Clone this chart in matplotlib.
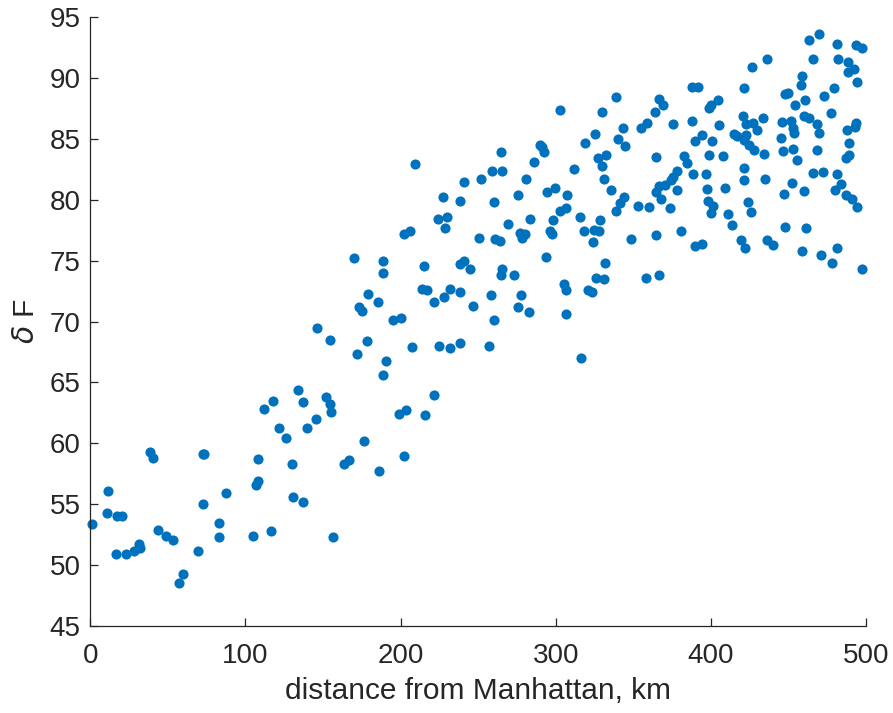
import matplotlib
matplotlib.use('Agg')
import matplotlib.pyplot as plt

plt.rcParams['font.family'] = ['Liberation Sans', 'DejaVu Sans']

# distance (km) and delta F values
dist = [0.9, 11.2, 10.9, 16.5, 17.4, 20.6, 23.2, 28.3, 31.6, 32.0, 38.4, 40.6, 44.0, 48.7, 53.4,
        57.1, 59.9, 69.2, 72.4, 73.2, 72.8, 83.1, 83.1, 87.4, 104.6, 106.7, 107.8, 108.4, 116.4,
        111.9, 117.6, 121.5,
        126.2, 130.3, 130.7, 137.4, 134.2, 137.4, 139.7, 145.5, 152.1, 154.2, 154.9, 156.5, 163.6,
        166.6, 176.2, 186.1, 188.7, 190.6, 198.8, 203.3, 202.4, 215.8, 221.7,
        146.2, 154.3, 169.8, 172.0, 173.0, 175.3, 178.4, 179.3, 185.3, 188.9, 188.7, 195.1, 200.5,
        207.3, 202.2, 205.9, 209.1, 214.9, 214.0, 216.7, 221.5, 224.8, 223.9, 230.1, 228.8, 227.1,
        227.9, 231.6, 231.9,
        241.0, 251.8, 238.0, 250.7, 241.0, 238.0, 244.7, 246.9, 238.0,
        338.7, 302.9, 329.7, 343.0, 355.0, 358.7, 340.0, 344.5, 318.7, 325.0, 289.6, 291.3, 292.6,
        264.9, 259.1, 265.3, 285.9, 311.7, 327.1, 332.1, 329.7, 364.3, 280.8, 331.0, 335.5, 260.4,
        275.4, 294.3, 299.2, 307.1, 343.7, 341.1, 339.0, 352.7, 360.0, 302.9, 306.3, 315.5, 328.2,
        298.4, 283.3, 269.2, 276.7, 280.4, 278.0, 296.5, 297.3, 318.1, 324.5, 327.8, 324.2, 348.4,
        364.7, 260.8, 263.8, 293.9, 265.1, 264.7, 273.3, 258.2, 277.3, 275.9, 282.7, 260.2, 305.0,
        306.3, 320.5, 323.5, 326.1, 330.8, 331.6, 358.0, 366.2, 306.5, 238.0, 256.7, 316.2,
        469.7, 463.2, 481.4, 493.5, 497.4, 435.9, 426.3, 465.6, 481.7, 488.3, 492.2, 488.5, 494.1,
        458.5, 457.9, 387.9, 391.9, 421.1, 447.5, 449.9, 472.9, 479.1, 460.7, 453.8, 366.2, 368.8,
        363.6, 399.7, 404.4, 399.0, 477.2, 420.5, 433.6, 387.6, 375.2, 405.3, 445.8, 451.6, 452.7,
        453.3, 459.6, 463.0, 468.1, 469.9, 493.5, 487.7, 492.9, 422.4, 426.9, 429.5, 415.1, 416.9,
        422.7, 421.1, 424.8, 427.4, 394.1, 389.6, 400.8, 445.2, 489.2, 382.7, 384.7, 398.4, 407.9,
        434.3, 446.2, 453.1, 455.5, 468.6, 488.7, 487.0, 421.1, 378.4, 375.4, 374.1, 388.3, 396.9,
        465.6, 472.0, 481.0, 421.1, 434.6, 452.3, 366.8, 370.5, 364.7, 368.1, 378.0, 397.6, 409.2,
        447.3, 460.2, 483.8, 479.7, 487.0, 490.9, 494.3, 373.3, 397.9, 401.2, 399.7, 424.1, 425.9,
        410.8, 413.4, 447.8, 461.1, 380.4, 390.0, 394.1, 419.4, 422.2, 435.9, 439.8, 458.7, 470.9,
        478.0, 481.2, 497.4]

delta_f = [53.4, 56.1, 54.3, 50.9, 54.0, 54.0, 50.9, 51.2, 51.7, 51.4, 59.3, 58.8, 52.9, 52.4, 52.1,
           48.5, 49.3, 51.2, 59.1, 59.1, 55.0, 53.5, 52.3, 55.9, 52.4, 56.6, 56.9, 58.7, 52.8,
           62.8, 63.5, 61.3,
           60.4, 58.3, 55.6, 55.2, 64.4, 63.4, 61.3, 62.0, 63.8, 63.2, 62.6, 52.3, 58.3,
           58.6, 60.2, 57.7, 65.6, 66.8, 62.4, 62.7, 59.0, 62.3, 64.0,
           69.5, 68.5, 75.2, 67.3, 71.2, 70.9, 68.4, 72.3, 71.6, 75.0, 74.0, 70.1, 70.3,
           67.9, 77.2, 77.4, 82.9, 74.6, 72.7, 72.6, 71.6, 68.0, 78.4, 78.6, 77.7, 80.2,
           72.0, 72.7, 67.8,
           81.5, 81.7, 79.9, 76.9, 75.0, 74.7, 74.3, 71.3, 72.4,
           88.4, 87.4, 87.2, 85.9, 85.9, 86.3, 85.0, 84.4, 84.7, 85.4, 84.5, 84.3, 83.9,
           83.9, 82.4, 82.4, 83.1, 82.5, 83.4, 83.7, 82.8, 83.5, 81.7, 81.7, 80.8, 79.8,
           80.4, 80.6, 81.0, 80.4, 80.2, 79.7, 79.1, 79.5, 79.4, 79.1, 79.3, 78.6, 78.3,
           78.3, 78.4, 78.0, 77.3, 77.2, 76.9, 77.4, 77.2, 77.4, 77.5, 77.4, 76.5, 76.8,
           77.1, 76.8, 76.6, 75.3, 74.3, 73.8, 73.8, 72.2, 72.2, 71.2, 70.8, 70.1, 73.1,
           72.6, 72.6, 72.4, 73.6, 73.5, 74.8, 73.6, 73.8, 70.6, 68.2, 68.0, 67.0,
           93.6, 93.1, 92.8, 92.7, 92.5, 91.6, 90.9, 91.6, 91.6, 91.3, 90.7, 90.5, 89.7,
           90.2, 89.4, 89.3, 89.3, 89.2, 88.7, 88.8, 88.5, 89.2, 88.2, 87.8, 88.3, 87.8,
           87.2, 87.8, 88.2, 87.5, 87.1, 86.9, 86.7, 86.5, 86.2, 86.1, 86.4, 86.5, 85.9,
           85.5, 86.9, 86.7, 86.2, 85.5, 86.3, 85.7, 86.0, 86.2, 86.3, 85.7, 85.4, 85.2,
           85.3, 84.9, 84.5, 84.1, 85.3, 84.8, 84.8, 85.1, 84.7, 83.6, 83.0, 83.7, 83.6,
           83.8, 84.0, 84.2, 83.3, 84.1, 83.7, 83.4, 82.6, 82.4, 81.9, 81.6, 82.1, 82.1,
           82.2, 82.3, 82.1, 81.6, 81.7, 81.4, 81.1, 81.2, 80.6, 80.1, 80.8, 80.9, 81.0,
           80.5, 80.7, 81.3, 80.8, 80.4, 80.1, 79.4, 79.3, 79.9, 79.5, 78.9, 79.8, 79.0,
           78.8, 77.9, 77.8, 77.7, 77.4, 76.2, 76.4, 76.7, 76.0, 76.7, 76.3, 75.8, 75.5,
           74.8, 76.0, 74.3]

x_ticks = [0, 100, 200, 300, 400, 500]
y_ticks = [45, 50, 55, 60, 65, 70, 75, 80, 85, 90, 95]

fig = plt.figure(figsize=(8.93, 7.13), dpi=100)
ax = fig.add_axes([0.101, 0.122, 0.869, 0.854])

ax.plot(dist, delta_f, 'o', color='#0072BD', markersize=7.3, markeredgewidth=0, clip_on=False)

ax.set_xlim(0, 500)
ax.set_ylim(45, 95)
ax.set_xticks(x_ticks)
ax.set_yticks(y_ticks)

for s in ['top', 'right']:
    ax.spines[s].set_visible(False)
for s in ['left', 'bottom']:
    ax.spines[s].set_color('#262626')
    ax.spines[s].set_linewidth(0.9)

ax.tick_params(direction='in', length=6, width=0.9, colors='#262626', labelsize=20)
ax.tick_params(axis='x', pad=12)
ax.tick_params(axis='y', pad=7)
ax.set_xlabel('distance from Manhattan, km', fontsize=21.5, color='#262626', labelpad=6)
ax.set_ylabel(r'$\delta$ F', fontsize=21.5, color='#262626', labelpad=7)

fig.savefig('out.png', dpi=100)
